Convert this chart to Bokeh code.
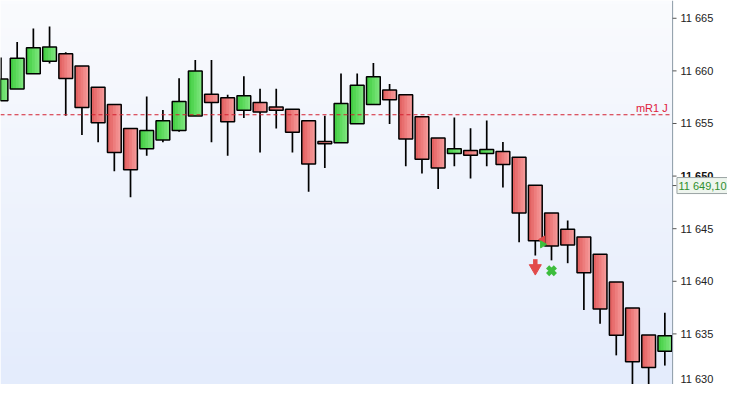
import numpy as np
from bokeh.plotting import figure
from bokeh.models import Range1d, ColumnDataSource
from bokeh.core.properties import value
from bokeh.embed import file_html
from bokeh.resources import INLINE

# ---- data ----
opens = [11657.17, 11658.27, 11659.73, 11660.91, 11661.64, 11660.46, 11658.45, 11656.81,
         11654.53, 11652.61, 11653.43, 11654.34, 11655.71, 11657.77, 11657.45, 11656.26,
         11656.99, 11656.56, 11656.35, 11655.26, 11653.28, 11653.16, 11654.98, 11656.81,
         11658.18, 11657.72, 11655.65, 11653.61, 11652.15, 11652.43, 11652.15, 11652.34,
         11651.79, 11649.14, 11646.50, 11644.95, 11644.22, 11642.57, 11639.93, 11637.46,
         11634.89, 11633.36]
highs = [11661.28, 11662.74, 11664.04, 11664.22, 11661.76, 11660.46, 11658.45, 11656.81,
         11654.53, 11657.56, 11656.29, 11659.30, 11661.03, 11661.03, 11657.72, 11659.48,
         11658.29, 11658.29, 11656.35, 11655.26, 11655.74, 11659.75, 11659.75, 11660.76,
         11658.75, 11657.72, 11655.65, 11653.61, 11655.58, 11654.55, 11655.28, 11653.25,
         11651.79, 11649.14, 11646.50, 11645.79, 11644.22, 11642.57, 11639.93, 11637.46,
         11634.89, 11637.01]
lows = [11657.17, 11658.27, 11659.73, 11660.69, 11655.74, 11653.91, 11653.21, 11650.47,
        11647.98, 11651.93, 11653.21, 11654.22, 11655.71, 11653.21, 11651.93, 11655.53,
        11652.24, 11654.53, 11652.24, 11648.50, 11650.78, 11653.16, 11654.98, 11656.81,
        11654.95, 11650.93, 11650.24, 11648.78, 11650.93, 11649.78, 11650.93, 11648.92,
        11643.72, 11642.45, 11641.99, 11641.72, 11637.28, 11635.97, 11632.96, 11629.90,
        11629.90, 11631.99]
closes = [11659.23, 11661.19, 11662.19, 11662.28, 11659.27, 11656.53, 11655.07, 11652.24,
          11650.60, 11654.34, 11655.26, 11657.08, 11660.00, 11656.99, 11655.16, 11657.63,
          11656.08, 11656.26, 11654.16, 11651.15, 11653.07, 11656.90, 11658.63, 11659.45,
          11657.26, 11653.52, 11651.61, 11650.78, 11652.61, 11651.97, 11652.52, 11651.11,
          11646.50, 11643.85, 11643.36, 11643.45, 11640.82, 11637.37, 11634.87, 11632.36,
          11631.81, 11634.82]

tick_values = [11630, 11635, 11640, 11645, 11650, 11655, 11660, 11665]
tick_labels = ["11 630", "11 635", "11 640", "11 645", "11 650", "11 655", "11 660", "11 665"]
level_mr1 = 11655.83
level_label = "mR1 J"
last_price = 11649.10
last_price_text = "11 649,10"

sell_x = [33]
sell_y = [11641.55]
exit_x = [34]
exit_y = [11641.0]
mark_red_x = [33.45]
mark_red_y = [11643.97]
mark_green_x = [33.45]
mark_green_y = [11643.51]

# ---- layout in data units ----
x0, x_plot_end, x1 = -0.03, 41.48, 44.87
y0, y1 = 11630.19, 11666.69
px = (x1 - x0) / 743.0          # one reference pixel in x data units
body_w = 0.85

n = len(opens)
xs = list(range(n))
up = [c >= o for o, c in zip(opens, closes)]
tops = [max(o, c) for o, c in zip(opens, closes)]
bots = [min(o, c) for o, c in zip(opens, closes)]
src = ColumnDataSource(dict(x=xs, top=tops, bottom=bots, high=highs, low=lows))

p = figure(width=727, height=384, x_range=Range1d(x0, x1), y_range=Range1d(y0, y1),
           x_axis_location=None, y_axis_location=None,
           output_backend="svg", toolbar_location=None,
           min_border_left=0, min_border_top=0, min_border_bottom=0, min_border_right=0)
p.grid.visible = False
p.outline_line_color = None
p.background_fill_color = "white"
p.border_fill_color = "white"

# background vertical gradient for the chart pane
N = 96
img = np.empty((N, 1), dtype=np.uint32)
view = img.view(dtype=np.uint8).reshape((N, 1, 4))
bot_c = np.array([228, 236, 252])
top_c = np.array([250, 251, 254])
for r in range(N):
    t = r / (N - 1)
    c = bot_c + (top_c - bot_c) * t
    view[r, 0, 0:3] = c.astype(np.uint8)
    view[r, 0, 3] = 255
p.image_rgba(image=[img], x=x0, y=y0, dw=x_plot_end - x0, dh=y1 - y0)

# candles: wicks, body shading (darker left -> lighter right, overlapping layers), outline
p.segment(x0="x", y0="high", x1="x", y1="low", source=src, line_color="black", line_width=1.7)
red_shades = ["#e26262", "#e86f6f", "#ed7d7d", "#f18b8b", "#f39797"]
green_shades = ["#45cd45", "#52d552", "#60db60", "#6fe06f", "#7ce57c"]
ns = len(red_shades)
sw = body_w / ns
for k in range(ns):
    left = -body_w / 2 + sw * k
    right = body_w / 2
    p.vbar(x=[xi + (left + right) / 2 for xi in xs], width=right - left, top=tops, bottom=bots,
           fill_color=[green_shades[k] if u else red_shades[k] for u in up], line_color=None)
p.vbar(x="x", width=body_w, top="top", bottom="bottom", source=src,
       fill_color=None, line_color="black", line_width=1.5)

# signals
p.scatter(mark_red_x, mark_red_y, marker="triangle", angle=np.pi / 2, size=7,
          fill_color="#e04848", line_color="#e04848")
p.scatter(mark_green_x, mark_green_y, marker="triangle", angle=-np.pi / 2, size=7,
          fill_color="#3cbf3c", line_color="#3cbf3c")
p.segment(x0=sell_x, y0=[v + 0.55 for v in sell_y], x1=sell_x, y1=[v - 0.1 for v in sell_y],
          line_color="#e24a4a", line_width=4.5)
p.scatter(sell_x, [v - 0.3 for v in sell_y], marker="inverted_triangle", size=12,
          fill_color="#e24a4a", line_color="#e24a4a")
p.scatter(exit_x, exit_y, marker="x", size=11, line_color="#3dbd3d", line_width=4.5)

# level line (only across the chart pane)
p.segment(x0=[x0], y0=[level_mr1], x1=[x_plot_end], y1=[level_mr1], line_color="#d42030",
          line_dash="4 3", line_width=1.2)
p.text(x=[x_plot_end - 5 * px], y=[level_mr1], text=[level_label], text_color="#e0203a",
       text_font=value("Liberation Sans"), text_font_size="11px",
       text_align="right", text_baseline="bottom", y_offset=-1)

# right price axis (drawn by hand so the price box can sit over it)
p.segment(x0=[x_plot_end], y0=[y0], x1=[x_plot_end], y1=[y1], line_color="#8b99a6", line_width=1)
tick_all = tick_values + [last_price]
p.segment(x0=[x_plot_end] * len(tick_all), y0=tick_all,
          x1=[x_plot_end + 4 * px] * len(tick_all), y1=tick_all,
          line_color="#555555", line_width=1)
lab_x = x_plot_end + 8 * px
normal_idx = [i for i, t in enumerate(tick_values) if t not in (11650, 11630)]
p.text(x=[lab_x] * len(normal_idx), y=[tick_values[i] for i in normal_idx],
       text=[tick_labels[i] for i in normal_idx], text_color="#222222",
       text_font=value("Liberation Sans"), text_font_size="11px", text_baseline="middle")
i650 = tick_values.index(11650)
p.text(x=[lab_x], y=[tick_values[i650]], text=[tick_labels[i650]], text_color="#111111",
       text_font=value("Liberation Sans"), text_font_size="11px", text_font_style="bold",
       text_baseline="middle")
i630 = tick_values.index(11630)
p.text(x=[lab_x], y=[max(tick_values[i630], y0)], text=[tick_labels[i630]], text_color="#222222",
       text_font=value("Liberation Sans"), text_font_size="11px", text_baseline="bottom")

# last price box
p.rect(x=[x_plot_end + 30.5 * px], y=[last_price], width=51, height=16,
       width_units="screen", height_units="screen",
       fill_color="#eef5ee", line_color="#9aa3a3", line_width=1)
p.text(x=[lab_x - 2 * px], y=[last_price], text=[last_price_text], text_color="#2f8f2f",
       text_font=value("Liberation Sans"), text_font_size="11px", text_baseline="middle")

open("out.html", "w").write(file_html(p, INLINE))
